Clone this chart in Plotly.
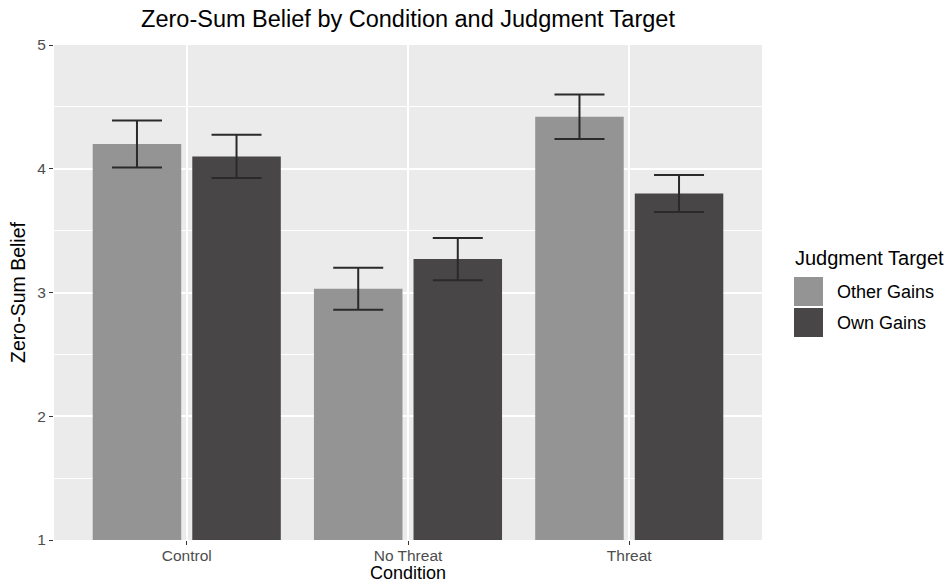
import plotly.graph_objects as go

# Mean zero-sum belief (1-5 scale) with standard-error bars
conditions = ["Control", "No Threat", "Threat"]
other_gains = [4.20, 3.03, 4.42]
other_err = [0.19, 0.17, 0.18]
own_gains = [4.10, 3.27, 3.80]
own_err = [0.175, 0.17, 0.15]

series_names = ["Other Gains", "Own Gains"]
fill_colors = ["#949494", "#484647"]

FONT = "Liberation Sans, Arial, sans-serif"

# Panel geometry in pixels (used to place the legend and axis title)
PX_L, PX_R, PX_T, PX_B = 54, 762, 45, 540


def px_x(x):
    return (x - PX_L) / (PX_R - PX_L)


def px_y(y):
    return 1 - (y - PX_T) / (PX_B - PX_T)


fig = go.Figure()
for name, vals, errs, col in zip(series_names, [other_gains, own_gains],
                                 [other_err, own_err], fill_colors):
    fig.add_trace(go.Bar(
        x=conditions, y=vals, name=name,
        marker=dict(color=col, line=dict(width=0)),
        error_y=dict(type="data", array=errs, visible=True,
                     color="#2a2a2a", thickness=2, width=25),
        showlegend=False,
    ))

# Legend drawn as keys + labels to the right of the panel
shapes = []
annotations = [
    dict(text="Judgment Target", xref="paper", yref="paper",
         x=px_x(793), y=px_y(258), xanchor="left", yanchor="middle",
         showarrow=False, font=dict(family=FONT, size=20, color="#000000")),
    dict(text="Condition", xref="paper", yref="paper",
         x=0.5, y=px_y(584), xanchor="center", yanchor="bottom",
         borderpad=0,
         showarrow=False, font=dict(family=FONT, size=18, color="#000000")),
]
key_tops = [277, 308]
for name, col, top in zip(series_names, fill_colors, key_tops):
    y1 = px_y(top)
    y0 = px_y(top + 29)
    shapes.append(dict(type="rect", xref="paper", yref="paper",
                       x0=px_x(794), x1=px_x(823), y0=y0, y1=y1,
                       fillcolor=col, line=dict(width=0)))
    annotations.append(dict(text=name, xref="paper", yref="paper",
                            x=px_x(835), y=(y0 + y1) / 2,
                            xanchor="left", yanchor="middle", showarrow=False,
                            font=dict(family=FONT, size=18, color="#000000")))

fig.update_layout(
    width=948, height=585,
    margin=dict(l=PX_L, r=948 - PX_R, t=PX_T, b=585 - PX_B, autoexpand=False),
    paper_bgcolor="#ffffff",
    plot_bgcolor="#EBEBEB",
    barmode="group", bargap=0.1, bargroupgap=0.111,
    font=dict(family=FONT, color="#000000"),
    title=dict(text="Zero-Sum Belief by Condition and Judgment Target",
               x=0.5, xref="paper", xanchor="center",
               y=1 - 19 / 585, yref="container", yanchor="middle",
               font=dict(family=FONT, size=23.5, color="#000000")),
    shapes=shapes,
    annotations=annotations,
)

fig.update_xaxes(
    type="category", range=[-0.6, 2.6], automargin=False,
    showgrid=True, gridcolor="#ffffff", gridwidth=1.6,
    ticks="outside", ticklen=4, tickwidth=1.2, tickcolor="#333333",
    ticklabelstandoff=-3,
    tickfont=dict(family=FONT, size=15.5, color="#4D4D4D"),
    showline=False, zeroline=False,
)
fig.update_yaxes(
    range=[1, 5], tickvals=[1, 2, 3, 4, 5], automargin=False,
    showgrid=True, gridcolor="#ffffff", gridwidth=1.6,
    minor=dict(tickvals=[1.5, 2.5, 3.5, 4.5], showgrid=True,
               gridcolor="#ffffff", gridwidth=0.8),
    ticks="outside", ticklen=4, tickwidth=1.2, tickcolor="#333333",
    tickfont=dict(family=FONT, size=15.5, color="#4D4D4D"),
    showline=False, zeroline=False,
    title=dict(text="Zero-Sum Belief", standoff=6,
               font=dict(family=FONT, size=19.5, color="#000000")),
)

fig.write_html("out.html")
